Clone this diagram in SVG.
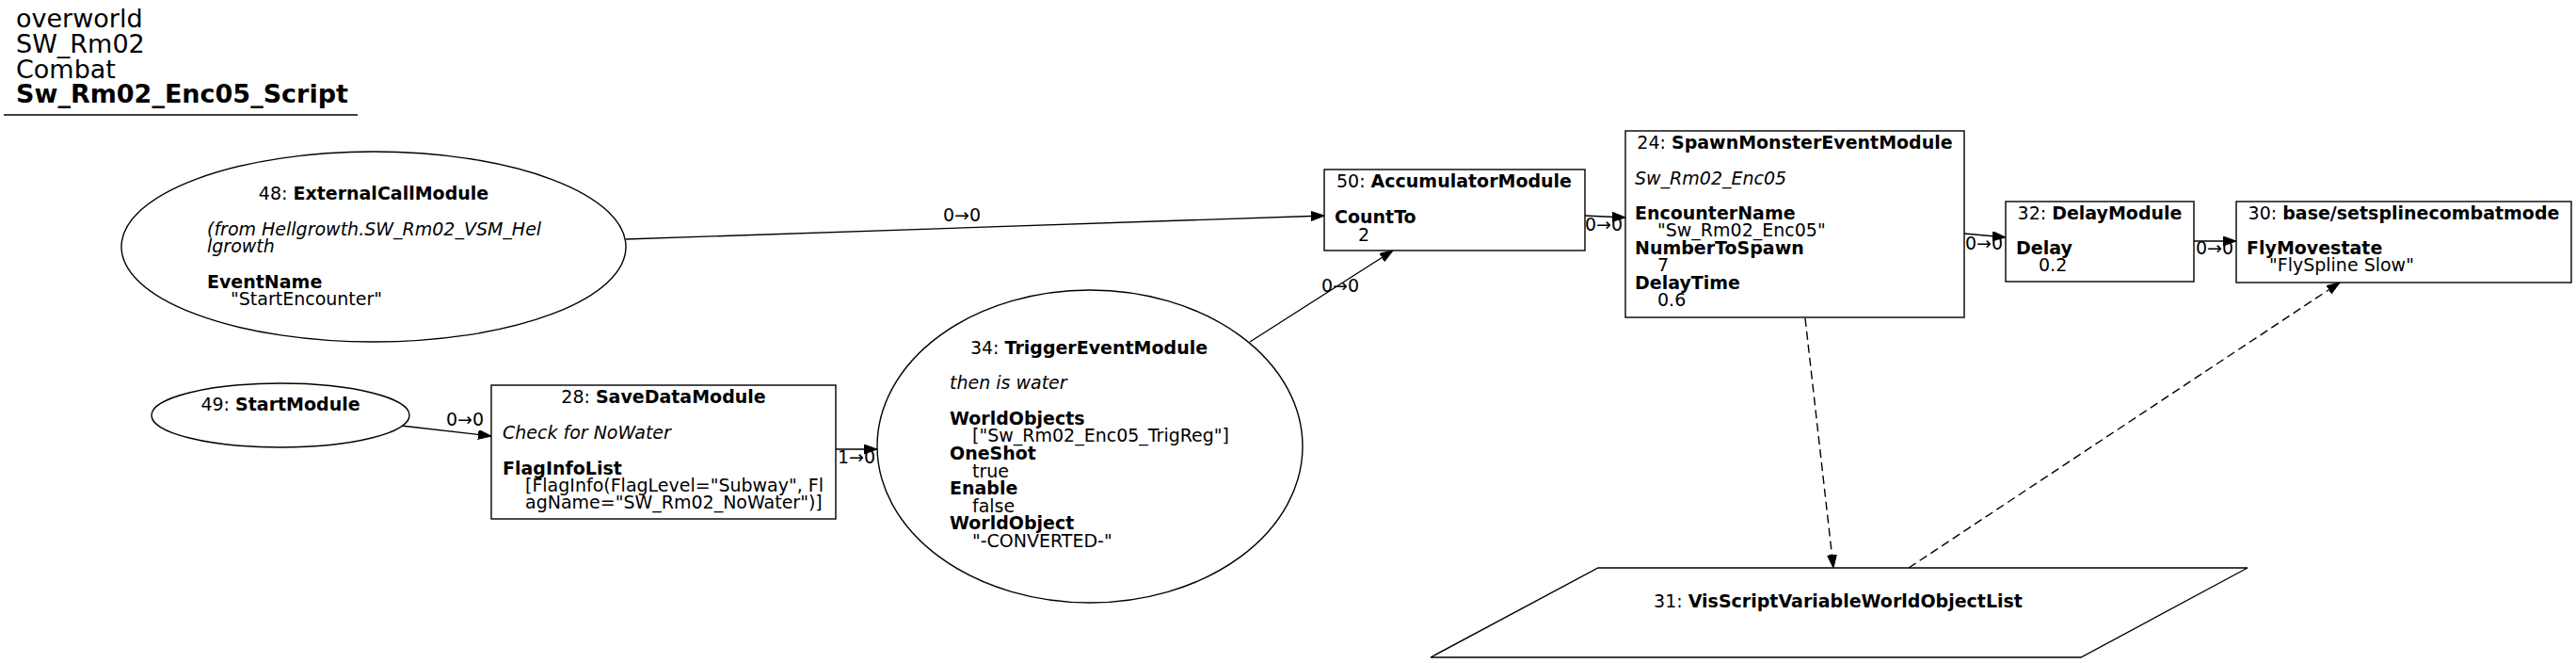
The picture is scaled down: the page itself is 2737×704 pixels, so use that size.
<svg xmlns="http://www.w3.org/2000/svg" width="2737" height="704" viewBox="0 0 2737 704">
<defs>
<style>
text{font-family:"DejaVu Sans","Liberation Sans",sans-serif;fill:#000}
.t{font-size:27px}
.n{font-size:19px}
.b{font-weight:bold}
.i{font-style:italic}
.m{text-anchor:middle}
.shape{fill:#fff;stroke:#000;stroke-width:1.4}
.e{fill:none;stroke:#000;stroke-width:1.4}
.d{stroke-dasharray:9,5}
.lbl{font-size:19px;text-anchor:middle}
</style>
<marker id="ah" markerUnits="userSpaceOnUse" markerWidth="15" markerHeight="11" refX="14" refY="5" orient="auto">
<path d="M0,0 L14,5 L0,10 z" fill="#000" stroke="#000" stroke-width="1"/>
</marker>
</defs>
<rect x="0" y="0" width="2737" height="704" fill="#fff"/>

<g id="title">
<text class="t" x="17" y="29">overworld</text>
<text class="t" x="17" y="56">SW_Rm02</text>
<text class="t" x="17" y="83">Combat</text>
<text class="t b" x="17" y="109">Sw_Rm02_Enc05_Script</text>
<line x1="4" y1="122" x2="380" y2="122" stroke="#000" stroke-width="1.4"/>
</g>

<g id="connectors">
<path class="e" d="M665,254 L1407,229" marker-end="url(#ah)"/>
<text class="lbl" x="1022" y="235">0→0</text>
<path class="e" d="M426,452 L522,463" marker-end="url(#ah)"/>
<text class="lbl" x="494" y="452">0→0</text>
<path class="e" d="M888,477 L932,477" marker-end="url(#ah)"/>
<text class="lbl" x="910" y="492">1→0</text>
<path class="e" d="M1328,363 L1480,266" marker-end="url(#ah)"/>
<text class="lbl" x="1424" y="310">0→0</text>
<path class="e" d="M1684,229 L1727,231" marker-end="url(#ah)"/>
<text class="lbl" x="1704" y="245">0→0</text>
<path class="e" d="M2087,248 L2131,252" marker-end="url(#ah)"/>
<text class="lbl" x="2108" y="265">0→0</text>
<path class="e" d="M2331,256 L2376,256" marker-end="url(#ah)"/>
<text class="lbl" x="2353" y="270">0→0</text>
<path class="e d" d="M1918,338 L1948,603" marker-end="url(#ah)"/>
<path class="e d" d="M2028,603 L2486,300" marker-end="url(#ah)"/>
</g>

<g id="node48">
<ellipse class="shape" cx="397" cy="262" rx="268" ry="101"/>
<text class="n m" x="397" y="212">48: <tspan class="b">ExternalCallModule</tspan></text>
<text class="n i" x="220" y="250">(from Hellgrowth.SW_Rm02_VSM_Hel</text>
<text class="n i" x="220" y="268">lgrowth</text>
<text class="n b" x="220" y="306">EventName</text>
<text class="n" x="245" y="324">"StartEncounter"</text>
</g>

<g id="node49">
<ellipse class="shape" cx="298" cy="441" rx="137" ry="34"/>
<text class="n m" x="298" y="436">49: <tspan class="b">StartModule</tspan></text>
</g>

<g id="node28">
<rect class="shape" x="522" y="409" width="366" height="142"/>
<text class="n m" x="705" y="428">28: <tspan class="b">SaveDataModule</tspan></text>
<text class="n i" x="534" y="466">Check for NoWater</text>
<text class="n b" x="534" y="504">FlagInfoList</text>
<text class="n" x="558" y="522">[FlagInfo(FlagLevel="Subway", Fl</text>
<text class="n" x="558" y="540">agName="SW_Rm02_NoWater")]</text>
</g>

<g id="node34">
<ellipse class="shape" cx="1158" cy="474" rx="226" ry="166"/>
<text class="n m" x="1157" y="376">34: <tspan class="b">TriggerEventModule</tspan></text>
<text class="n i" x="1009" y="413">then is water</text>
<text class="n b" x="1009" y="451">WorldObjects</text>
<text class="n" x="1033" y="469">["Sw_Rm02_Enc05_TrigReg"]</text>
<text class="n b" x="1009" y="488">OneShot</text>
<text class="n" x="1033" y="507">true</text>
<text class="n b" x="1009" y="525">Enable</text>
<text class="n" x="1033" y="544">false</text>
<text class="n b" x="1009" y="562">WorldObject</text>
<text class="n" x="1033" y="581">"-CONVERTED-"</text>
</g>

<g id="node50">
<rect class="shape" x="1407" y="180" width="277" height="86"/>
<text class="n m" x="1545" y="199">50: <tspan class="b">AccumulatorModule</tspan></text>
<text class="n b" x="1418" y="237">CountTo</text>
<text class="n" x="1443" y="256">2</text>
</g>

<g id="node24">
<rect class="shape" x="1727" y="139" width="360" height="198"/>
<text class="n m" x="1907" y="158">24: <tspan class="b">SpawnMonsterEventModule</tspan></text>
<text class="n i" x="1737" y="196">Sw_Rm02_Enc05</text>
<text class="n b" x="1737" y="233">EncounterName</text>
<text class="n" x="1761" y="251">"Sw_Rm02_Enc05"</text>
<text class="n b" x="1737" y="270">NumberToSpawn</text>
<text class="n" x="1761" y="288">7</text>
<text class="n b" x="1737" y="307">DelayTime</text>
<text class="n" x="1761" y="325">0.6</text>
</g>

<g id="node32">
<rect class="shape" x="2131" y="214" width="200" height="85"/>
<text class="n m" x="2231" y="233">32: <tspan class="b">DelayModule</tspan></text>
<text class="n b" x="2142" y="270">Delay</text>
<text class="n" x="2166" y="288">0.2</text>
</g>

<g id="node30">
<rect class="shape" x="2376" y="214" width="356" height="86"/>
<text class="n m" x="2554" y="233">30: <tspan class="b">base/setsplinecombatmode</tspan></text>
<text class="n b" x="2387" y="270">FlyMovestate</text>
<text class="n" x="2411" y="288">"FlySpline Slow"</text>
</g>

<g id="node31">
<polygon class="shape" points="1698,603 2388,603 2211,698 1520,698"/>
<text class="n m" x="1953" y="645">31: <tspan class="b">VisScriptVariableWorldObjectList</tspan></text>
</g>
</svg>
